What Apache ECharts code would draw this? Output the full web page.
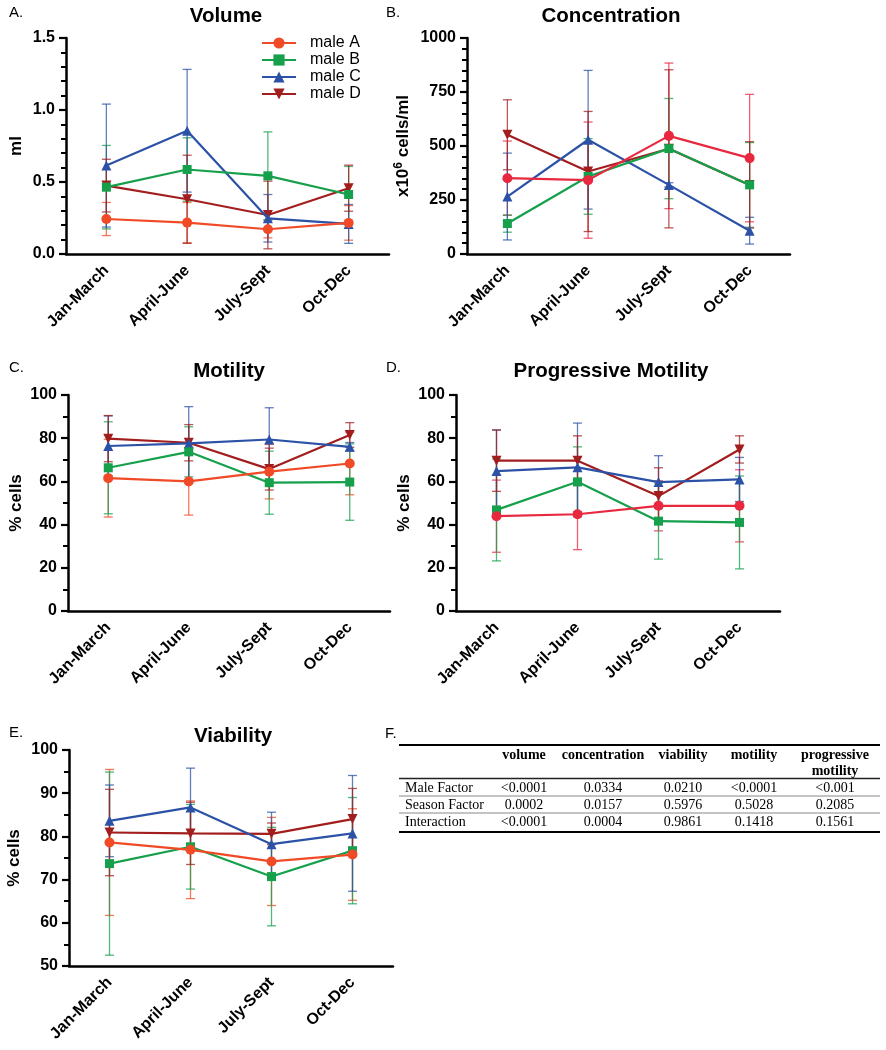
<!DOCTYPE html>
<html><head><meta charset="utf-8">
<script src="https://cdn.jsdelivr.net/npm/echarts@6/dist/echarts.min.js"></script>
<style>html,body{margin:0;padding:0;background:#fff}#c{width:886px;height:1050px}</style>
</head><body><div id="c"></div><script>
const categories = ['Jan-March', 'April-June', 'July-Sept', 'Oct-Dec'];
const maleNames = ['male A', 'male B', 'male C', 'male D'];

// Volume (ml): rows = male A, B, C, D
const volumeMean = [[0.243, 0.218, 0.172, 0.216], [0.464, 0.587, 0.543, 0.413], [0.614, 0.856, 0.248, 0.209], [0.475, 0.380, 0.271, 0.457]];
const volumeSD = [[0.115, 0.14, 0.06, 0.12], [0.29, 0.22, 0.305, 0.195], [0.427, 0.426, 0.165, 0.135], [0.183, 0.306, 0.235, 0.16]];
// Concentration (x10^6 cells/ml)
const concMean = [[351, 342, 547, 444], [141, 359, 488, 320], [266, 529, 320, 108], [552, 382, 487, 320]];
const concSD = [[172, 269, 337, 295], [40, 175, 232, 196], [201, 321, 10, 62], [162, 278, 366, 200]];
// Motility (% cells)
const motMean = [[61.5, 60.0, 64.5, 68.3], [66.3, 73.7, 59.4, 59.7], [76.4, 77.6, 79.4, 76.0], [79.8, 77.9, 65.7, 81.5]];
const motSD = [[18, 15.6, 12.6, 14.5], [21.3, 11.6, 14.6, 17.7], [13.9, 17, 14.7, 2], [10.7, 8.4, 9.7, 5.7]];
// Progressive motility (% cells)
const progMean = [[43.9, 44.8, 48.7, 48.7], [46.8, 59.8, 41.6, 41.0], [64.8, 66.5, 59.7, 60.9], [69.6, 69.6, 53.2, 74.8]];
const progSD = [[16.7, 16.4, 11.6, 16.7], [23.6, 16.2, 17.6, 21.5], [19, 20.5, 12.2, 10.2], [14.2, 11.5, 13.1, 6.3]];
// Viability (% cells)
const viaMean = [[78.6, 76.9, 74.2, 75.8], [73.7, 77.6, 70.7, 76.7], [83.6, 86.7, 78.2, 80.7], [80.9, 80.7, 80.6, 84.0]];
const viaSD = [[16.9, 11.3, 10.2, 10.6], [21.2, 9.8, 11.4, 12.3], [8.3, 9.1, 7.4, 13.4], [10, 7.2, 2.5, 7.1]];

// Table F
const tableCols = ['volume', 'concentration', 'viability', 'motility', 'progressive\nmotility'];
const tableRows = ['Male Factor', 'Season Factor', 'Interaction'];
const tableMale = ['<0.0001', '0.0334', '0.0210', '<0.0001', '<0.001'];
const tableSeason = ['0.0002', '0.0157', '0.5976', '0.5028', '0.2085'];
const tableInter = ['<0.0001', '0.0004', '0.9861', '0.1418', '0.1561'];

const colorsOrange = ['#F04A26', '#16A04B', '#2B52A6', '#A21E1E'];
const colorsCrimson = ['#E8283F', '#16A04B', '#2B52A6', '#A21E1E'];
const symbols = ['circle', 'rect', 'triangle', 'triangle'];
const symSizes = [10, 9, 10, 10];
const FONT = '"Liberation Sans", Arial, Helvetica, sans-serif';

const grids = [
  {left: 66, top: 38, width: 323, height: 216},
  {left: 467, top: 38, width: 323, height: 216},
  {left: 68, top: 395, width: 322, height: 216},
  {left: 456, top: 395, width: 324, height: 216},
  {left: 69, top: 750, width: 324, height: 216}
];
const yCfg = [
  {min: 0, max: 1.5, interval: 0.5, split: 5, name: 'ml', gap: 40, fmt: v => v.toFixed(1)},
  {min: 0, max: 1000, interval: 250, split: 5, name: 'x10{sup|6} cells/ml', gap: 54, fmt: v => String(v)},
  {min: 0, max: 100, interval: 20, split: 2, name: '% cells', gap: 33, fmt: v => String(v)},
  {min: 0, max: 100, interval: 20, split: 2, name: '% cells', gap: 37, fmt: v => String(v)},
  {min: 50, max: 100, interval: 10, split: 2, name: '% cells', gap: 45, fmt: v => String(v)}
];

const xAxes = grids.map((g, i) => ({
  type: 'category', gridIndex: i, data: categories, boundaryGap: true,
  axisLine: {lineStyle: {color: '#000', width: 2.5}},
  axisTick: {alignWithLabel: true, length: 7, lineStyle: {color: '#000', width: 2.5}},
  axisLabel: {rotate: 45, margin: 14, color: '#000', fontWeight: 'bold', fontSize: 16, fontFamily: FONT, interval: 0},
  splitLine: {show: false}
}));
const yAxes = yCfg.map((c, i) => ({
  type: 'value', gridIndex: i, min: c.min, max: c.max, interval: c.interval,
  name: c.name, nameLocation: 'middle', nameRotate: 90, nameGap: c.gap,
  nameTextStyle: {color: '#000', fontWeight: 'bold', fontSize: 17, fontFamily: FONT, lineHeight: 20,
    rich: {sup: {color: '#000', fontWeight: 'bold', fontSize: 12, fontFamily: FONT, verticalAlign: 'top', lineHeight: 20}}},
  axisLine: {show: true, lineStyle: {color: '#000', width: 2.5}},
  axisTick: {show: true, length: 7, lineStyle: {color: '#000', width: 2.2}},
  minorTick: {show: true, splitNumber: c.split, length: 5, lineStyle: {color: '#000', width: 2}},
  axisLabel: {color: '#000', fontWeight: 'bold', fontSize: 16, fontFamily: FONT, margin: 11, formatter: c.fmt},
  splitLine: {show: false}
}));

function makeErr(color) {
  return function (params, api) {
    const x = api.value(0), lo = api.value(1), hi = api.value(2);
    const p1 = api.coord([x, hi]), p2 = api.coord([x, lo]);
    const hw = 4.5;
    const style = {stroke: color, lineWidth: 1.3, opacity: 0.75};
    return {type: 'group', children: [
      {type: 'line', shape: {x1: p1[0], y1: p1[1], x2: p2[0], y2: p2[1]}, style: style},
      {type: 'line', shape: {x1: p1[0] - hw, y1: p1[1], x2: p1[0] + hw, y2: p1[1]}, style: style},
      {type: 'line', shape: {x1: p2[0] - hw, y1: p2[1], x2: p2[0] + hw, y2: p2[1]}, style: style}
    ]};
  };
}

const series = [];
function addPanel(idx, means, sds, colors) {
  for (let m = 0; m < 4; m++) {
    series.push({
      type: 'custom', name: 'sd ' + idx + '-' + m, xAxisIndex: idx, yAxisIndex: idx,
      renderItem: makeErr(colors[m]), silent: true, z: 2,
      encode: {x: 0, y: [1, 2]},
      data: means[m].map((v, i) => [i, v - sds[m][i], v + sds[m][i]])
    });
  }
  [3, 2, 1, 0].forEach((m, k) => {
    series.push({
      type: 'line', name: maleNames[m], xAxisIndex: idx, yAxisIndex: idx,
      data: means[m], symbol: symbols[m], symbolSize: symSizes[m],
      symbolRotate: m === 3 ? 180 : 0, showAllSymbol: true,
      lineStyle: {color: colors[m], width: 2.2}, itemStyle: {color: colors[m], opacity: 1},
      z: 3 + k, emphasis: {disabled: true}
    });
  });
}
addPanel(0, volumeMean, volumeSD, colorsOrange);
addPanel(1, concMean, concSD, colorsCrimson);
addPanel(2, motMean, motSD, colorsOrange);
addPanel(3, progMean, progSD, colorsCrimson);
addPanel(4, viaMean, viaSD, colorsOrange);

const graphics = [];
function txt(x, y, text, font, align) {
  graphics.push({type: 'text', x: x, y: y, style: {text: text, font: font, fill: '#000', textAlign: align || 'center', textVerticalAlign: 'middle'}});
}
const titleFont = 'bold 20.5px ' + FONT;
txt(226, 16, 'Volume', titleFont);
txt(611, 16, 'Concentration', titleFont);
txt(229, 371, 'Motility', titleFont);
txt(611, 371, 'Progressive Motility', titleFont);
txt(233, 736, 'Viability', titleFont);
const letFont = '15px ' + FONT;
txt(9, 13, 'A.', letFont, 'left');
txt(386, 13, 'B.', letFont, 'left');
txt(9, 368, 'C.', letFont, 'left');
txt(386, 368, 'D.', letFont, 'left');
txt(9, 733, 'E.', letFont, 'left');
txt(385, 734, 'F.', letFont, 'left');

// table F
const serif = '"Liberation Serif", "Times New Roman", serif';
const colX = [524, 603, 683, 754, 835];
function hline(y, w, c) {
  graphics.push({type: 'line', shape: {x1: 399, y1: y, x2: 880, y2: y}, style: {stroke: c || '#000', lineWidth: w}});
}
hline(745, 2);
hline(778.5, 1.5, '#222');
hline(796, 1, '#888');
hline(813, 1, '#888');
hline(832, 2);
tableCols.forEach((c, i) => {
  const parts = c.split('\n');
  if (parts.length === 1) txt(colX[i], 755, c, 'bold 14px ' + serif);
  else { txt(colX[i], 755, parts[0], 'bold 14px ' + serif); txt(colX[i], 771, parts[1], 'bold 14px ' + serif); }
});
const rowY = [788, 805, 822];
[tableMale, tableSeason, tableInter].forEach((row, r) => {
  txt(405, rowY[r], tableRows[r], '14px ' + serif, 'left');
  row.forEach((v, i) => txt(colX[i], rowY[r], v, '14px ' + serif));
});

const chart = echarts.init(document.getElementById('c'), null, {renderer: 'canvas'});
chart.setOption({
  animation: false,
  backgroundColor: '#fff',
  grid: grids,
  xAxis: xAxes,
  yAxis: yAxes,
  legend: {
    data: maleNames, orient: 'vertical', left: 256, top: 30, itemGap: 1,
    itemWidth: 34, itemHeight: 14, selectedMode: false,
    textStyle: {fontSize: 16, color: '#000', fontFamily: FONT, padding: [0, 0, 0, 9]}
  },
  series: series,
  graphic: graphics
});
</script></body></html>
